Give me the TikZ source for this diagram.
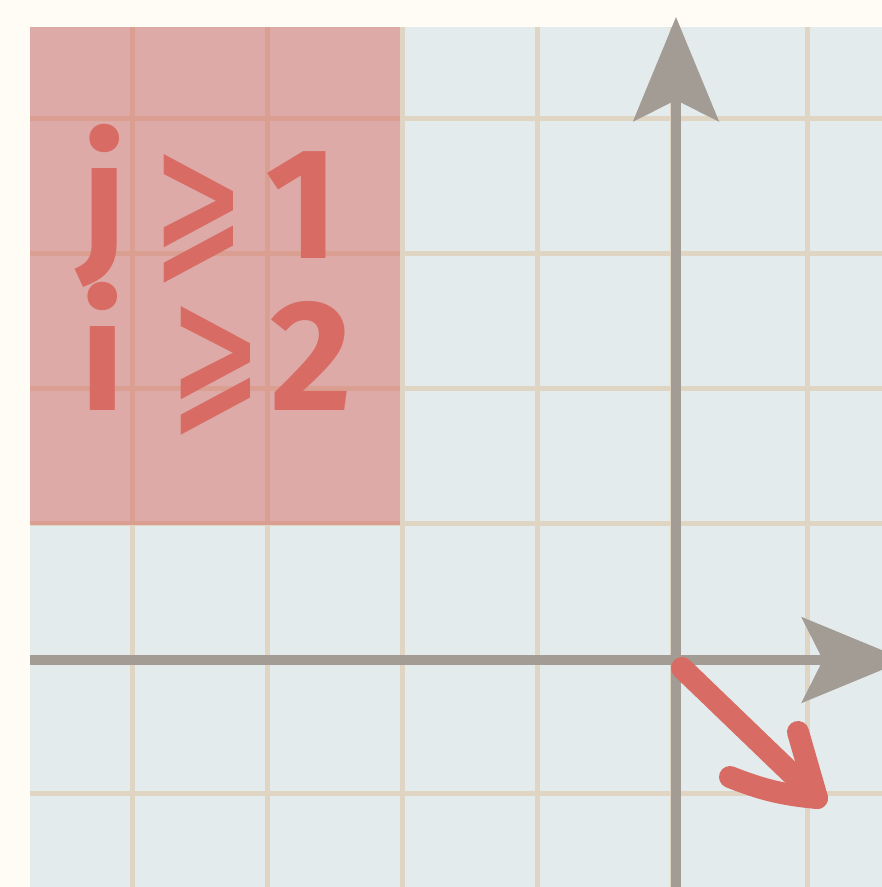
\documentclass[tikz,border=0pt]{standalone}
\usepackage{fontspec}
\setmainfont{Fira Sans}
\newfontfamily\symfont{DejaVu Sans}
\usetikzlibrary{arrows.meta}
\definecolor{paper}{HTML}{FFFBF5}
\definecolor{gridfill}{HTML}{E3EBEC}
\definecolor{gridline}{HTML}{E0D5C3}
\definecolor{axisgray}{HTML}{A39C94}
\definecolor{penred}{HTML}{D86B63}
\newcommand{\slgeq}{\scalebox{0.7}[1.04]{\symfont ⩾}}
\begin{document}
\begin{tikzpicture}[x=0.02cm, y=-0.02cm,
    gridline/.style={draw=gridline, line width=0.1cm},
    axis/.style={draw=axisgray, line width=0.2cm, -{Stealth[length=2.08cm, width=1.7cm, inset=0.42cm]}},
    region/.style={fill=penred, fill opacity=0.5},
    rule/.style={text=penred, font=\fontsize{90}{108}\selectfont\bfseries, anchor=base west, inner sep=0pt},
    vec/.style={draw=penred, line width=0.44cm, line cap=round, line join=round}
  ]
  \useasboundingbox (0,0) rectangle (882,887);
  \fill[paper] (0,0) rectangle (882,887);
  \clip (0,0) rectangle (882,887);
  \fill[gridfill] (30,27) rectangle (882,887);
  \foreach \x in {132,267,...,807} \draw[gridline] (\x,27) -- (\x,887);
  \foreach \y in {118,253,...,793} \draw[gridline] (30,\y) -- (882,\y);

  % half plane region
  \fill[region] (30,27) rectangle (400,525);
  \node[rule] (jrule) at (75,258) {\hspace{0.15cm}\raisebox{0.12cm}{j}\hspace{0.5cm}\slgeq\hspace{0.4cm}1};
  \node[rule] (irule) at (75,410) {\hspace{0.1cm}i\hspace{0.9cm}\slgeq\hspace{0.15cm}2};

  % axes
  \coordinate (o) at (676,660);
  \coordinate (xstart) at (30,660);
  \coordinate (xend) at (906,660);
  \coordinate (ybot) at (676,887);
  \coordinate (ytop) at (676,17);
  \draw[axis] (xstart) -- (xend);
  \draw[axis] (ybot) -- (ytop);

  % direction vector
  \coordinate (vtail) at (682,668);
  \coordinate (v) at (817,798);
  \draw[vec] (vtail) -- (v);
  \draw[vec] ([shift={(-87,-21)}]v) to[bend right=8] (v) -- ([shift={(-19,-66)}]v);
\end{tikzpicture}
\end{document}
